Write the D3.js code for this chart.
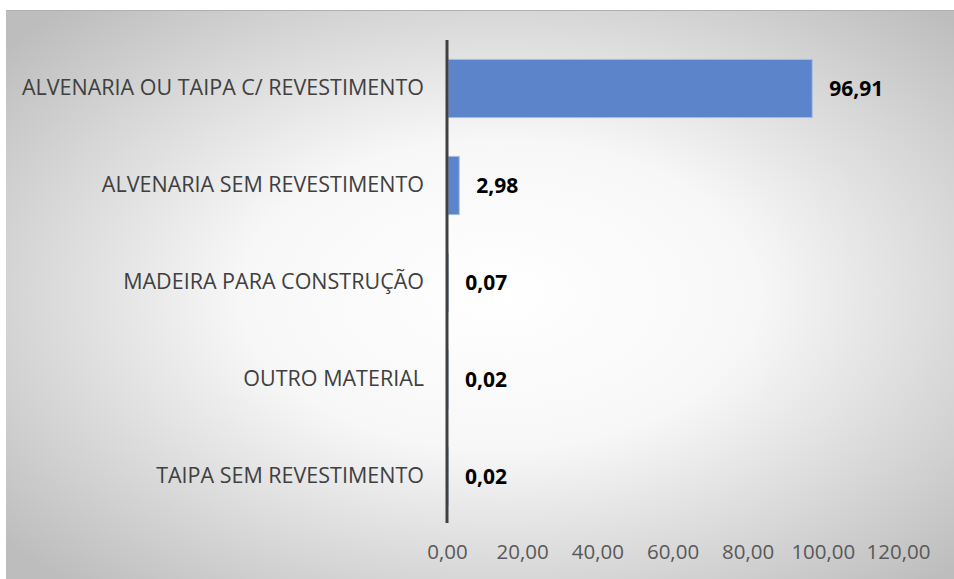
<!DOCTYPE html>
<html>
<head>
<meta charset="utf-8">
<script src="https://cdn.jsdelivr.net/npm/d3@7"></script>
<style>
  body { margin: 0; background: #fff; }
  svg { display: block; font-family: "Open Sans", "Noto Sans", sans-serif; }
</style>
</head>
<body>
<script>
// chart data
const categories = [
  "ALVENARIA OU TAIPA C/ REVESTIMENTO",
  "ALVENARIA SEM REVESTIMENTO",
  "MADEIRA PARA CONSTRUÇÃO",
  "OUTRO MATERIAL",
  "TAIPA SEM REVESTIMENTO"
];
const values = [96.91, 2.98, 0.07, 0.02, 0.02];
const valueLabels = ["96,91", "2,98", "0,07", "0,02", "0,02"];
const xTicks = [0, 20, 40, 60, 80, 100, 120];

const width = 954, height = 579;
const fmt = d => d3.format(".2f")(d).replace(".", ",");

const svg = d3.select("body").append("svg")
    .attr("width", width)
    .attr("height", height);

// radial background like the office chart area
const defs = svg.append("defs");
const grad = defs.append("radialGradient")
    .attr("id", "bg")
    .attr("cx", "52%").attr("cy", "50%").attr("r", "68%");
grad.append("stop").attr("offset", "0%").attr("stop-color", "#ffffff");
grad.append("stop").attr("offset", "40%").attr("stop-color", "#f7f7f7");
grad.append("stop").attr("offset", "100%").attr("stop-color", "#bdbdbd");

svg.append("rect")
    .attr("x", 6).attr("y", 10)
    .attr("width", width - 6).attr("height", height - 10)
    .attr("fill", "url(#bg)");
svg.append("line")
    .attr("x1", 6).attr("x2", width)
    .attr("y1", 10.5).attr("y2", 10.5)
    .attr("stroke", "#b0b0b0");

// scales
const x = d3.scaleLinear()
    .domain([0, 120])
    .range([447, 898]);

const y = d3.scaleBand()
    .domain(categories)
    .range([40, 525])
    .paddingInner(0.4)
    .paddingOuter(0.2);

// bars
svg.selectAll("rect.bar")
    .data(values)
    .enter()
    .append("rect")
    .attr("class", "bar")
    .attr("x", x(0) + 1)
    .attr("y", (d, i) => y(categories[i]))
    .attr("width", d => Math.max(0, x(d) - x(0)))
    .attr("height", y.bandwidth())
    .attr("fill", "#5b84cb")
    .attr("stroke", "#a9bde6")
    .attr("stroke-width", 1);

// value labels
svg.selectAll("text.val")
    .data(values)
    .enter()
    .append("text")
    .attr("class", "val")
    .attr("x", d => x(d) + 18)
    .attr("y", (d, i) => y(categories[i]) + y.bandwidth() / 2)
    .attr("dy", "0.35em")
    .style("font-size", "21px")
    .style("font-weight", "bold")
    .style("fill", "#000")
    .text((d, i) => valueLabels[i]);

// category axis
const yAxis = d3.axisLeft(y).tickSize(0).tickPadding(23);
const gy = svg.append("g")
    .attr("transform", `translate(${x(0)},0)`)
    .call(yAxis);
gy.select(".domain").remove();
gy.selectAll("text")
    .style("font-size", "21.5px")
    .style("font-family", "\"Open Sans\", sans-serif")
    .style("fill", "#404040");

// vertical axis line
svg.append("line")
    .attr("x1", x(0)).attr("x2", x(0))
    .attr("y1", 40).attr("y2", 523)
    .attr("stroke", "#404040")
    .attr("stroke-width", 3);

// value axis (labels only)
const xAxis = d3.axisBottom(x).tickValues(xTicks).tickFormat(fmt).tickSize(0).tickPadding(0);
const gx = svg.append("g")
    .attr("transform", "translate(0,544)")
    .call(xAxis);
gx.select(".domain").remove();
gx.selectAll("text")
    .style("font-size", "20.5px")
    .style("font-family", "\"Open Sans\", sans-serif")
    .style("fill", "#595959");
</script>
</body>
</html>
